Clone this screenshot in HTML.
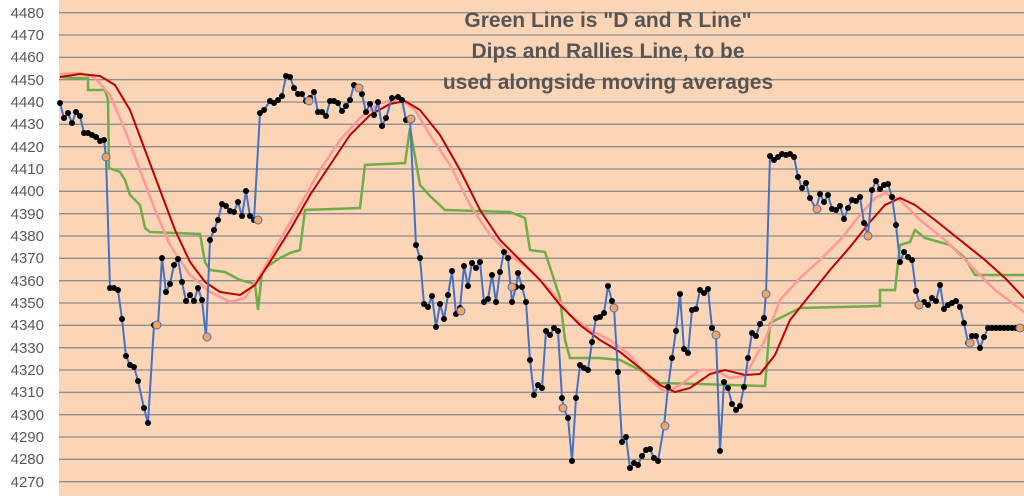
<!DOCTYPE html>
<html><head><meta charset="utf-8"><style>
html,body{margin:0;padding:0;background:#fff;}
svg{display:block;}
</style></head><body>
<svg width="1024" height="496" viewBox="0 0 1024 496" xmlns="http://www.w3.org/2000/svg">
<defs>
<marker id="dot" viewBox="0 0 10 10" refX="5" refY="5" markerWidth="6" markerHeight="6" markerUnits="userSpaceOnUse"><circle cx="5" cy="5" r="5" fill="#000"/></marker>
</defs>
<rect x="59" y="0" width="965" height="496" fill="#FBD5B6"/>
<g stroke="#8c8c8c" stroke-width="1.3">
<line x1="59" x2="1024" y1="12.7" y2="12.7"/><line x1="59" x2="1024" y1="35" y2="35"/><line x1="59" x2="1024" y1="57.4" y2="57.4"/><line x1="59" x2="1024" y1="79.7" y2="79.7"/><line x1="59" x2="1024" y1="102" y2="102"/><line x1="59" x2="1024" y1="124.3" y2="124.3"/><line x1="59" x2="1024" y1="146.7" y2="146.7"/><line x1="59" x2="1024" y1="169" y2="169"/><line x1="59" x2="1024" y1="191.3" y2="191.3"/><line x1="59" x2="1024" y1="213.7" y2="213.7"/><line x1="59" x2="1024" y1="236" y2="236"/><line x1="59" x2="1024" y1="258.3" y2="258.3"/><line x1="59" x2="1024" y1="280.7" y2="280.7"/><line x1="59" x2="1024" y1="303" y2="303"/><line x1="59" x2="1024" y1="325.3" y2="325.3"/><line x1="59" x2="1024" y1="347.7" y2="347.7"/><line x1="59" x2="1024" y1="370" y2="370"/><line x1="59" x2="1024" y1="392.3" y2="392.3"/><line x1="59" x2="1024" y1="414.7" y2="414.7"/><line x1="59" x2="1024" y1="437" y2="437"/><line x1="59" x2="1024" y1="459.3" y2="459.3"/><line x1="59" x2="1024" y1="481.7" y2="481.7"/>
</g>
<g font-family="Liberation Sans, sans-serif" font-size="15" fill="#595959" text-anchor="end">
<text x="44" y="18">4480</text><text x="44" y="40">4470</text><text x="44" y="62">4460</text><text x="44" y="85">4450</text><text x="44" y="107">4440</text><text x="44" y="129">4430</text><text x="44" y="152">4420</text><text x="44" y="174">4410</text><text x="44" y="196">4400</text><text x="44" y="219">4390</text><text x="44" y="241">4380</text><text x="44" y="263">4370</text><text x="44" y="286">4360</text><text x="44" y="308">4350</text><text x="44" y="330">4340</text><text x="44" y="353">4330</text><text x="44" y="375">4320</text><text x="44" y="397">4310</text><text x="44" y="420">4300</text><text x="44" y="442">4290</text><text x="44" y="464">4280</text><text x="44" y="487">4270</text>
</g>
<g font-family="Liberation Sans, sans-serif" font-size="21" font-weight="bold" fill="#555555" text-anchor="middle">
<text x="608" y="27">Green Line is "D and R Line"</text>
<text x="608" y="58">Dips and Rallies Line, to be</text>
<text x="608" y="89">used alongside moving averages</text>
</g>
<polyline fill="none" stroke="#70AD47" stroke-width="2.5" points="60,77 75,78 88,78 88,90 105,90 108,100 109,168 120,172 125,180 130,195 140,205 145,228 150,232 200,234 205,262 210,270 225,272 240,280 255,284 258,310 262,272 265,268 280,258 290,253 300,250 305,210 360,208 365,165 405,163 410,128 420,185 430,196 445,210 510,212 525,218 530,250 545,252 560,298 565,340 570,358 600,358 620,360 640,370 660,383 700,384 765,386 770,323 780,318 800,308 880,306 880,290 895,290 900,245 910,242 915,230 925,238 950,245 965,258 975,275 1024,275"/>
<polyline fill="none" stroke="#FF9999" stroke-width="2.5" points="60,74 80,73 95,78 110,95 125,130 140,170 155,210 170,245 190,275 210,292 230,302 245,298 260,275 280,240 300,205 320,170 340,140 360,118 380,103 400,99 415,110 430,135 450,165 470,205 490,235 510,255 530,270 550,290 570,315 590,330 610,340 630,355 650,380 665,392 680,385 700,370 715,370 730,378 745,376 765,340 780,300 800,278 820,260 840,240 860,215 875,198 885,193 900,200 920,220 945,240 970,265 995,290 1024,312"/>
<polyline fill="none" stroke="#C00000" stroke-width="2" points="60,77 80,74 100,76 115,85 130,110 145,150 160,190 175,230 190,262 205,282 220,292 240,295 255,285 270,262 290,230 310,195 330,165 350,135 370,115 390,104 405,101 420,110 440,135 460,170 480,210 500,240 520,260 540,280 560,305 580,325 600,340 620,352 640,368 660,385 675,392 690,388 710,374 725,370 745,375 760,374 775,355 790,320 810,295 830,270 850,247 870,222 885,205 900,198 915,205 935,220 960,240 985,260 1005,278 1024,298"/>
<polyline fill="none" stroke="#4472C4" stroke-width="2" marker-start="url(#dot)" marker-mid="url(#dot)" marker-end="url(#dot)" points="60,103 64,118 68,113 72,123 76,112 80,116 84,133 88,133 92,135 96,137 100,141 104,140 106,157 110,288 114,288 118,290 122,319 126,356 130,365 134,367 138,381 144,408 148,423 154,325 158,325 162,258 166,292 170,284 174,265 178,259 182,282 186,301 190,295 194,301 198,288 202,300 206,337 210,240 214,230 218,220 222,204 226,206 230,211 234,212 238,202 242,216 246,191 250,216 254,220 260,113 264,110 270,101 274,103 278,100 282,96 286,76 290,77 294,88 298,94 302,94 306,101 310,98 314,92 318,112 322,112 326,116 330,101 334,101 338,103 342,111 346,106 350,100 354,85 358,88 362,94 366,112 370,104 374,115 378,102 382,126 386,118 392,98 398,97 402,100 406,120 410,118 416,245 420,258 424,304 428,307 432,296 436,327 440,304 444,319 448,295 452,271 456,314 460,308 464,266 468,286 472,263 476,268 480,262 484,302 488,299 492,275 496,302 500,272 504,252 508,258 512,302 516,287 518,273 522,287 526,302 530,360 534,395 538,385 542,388 546,331 550,335 554,328 558,331 562,398 564,409 568,418 572,461 576,398 580,365 584,368 588,370 592,342 596,318 600,317 604,313 608,286 612,301 614,308 618,372 622,442 626,437 630,468 634,463 638,465 642,456 646,450 650,449 654,458 658,461 664,426 668,387 672,358 676,331 680,294 684,349 688,353 692,310 696,309 700,290 704,293 708,289 712,328 716,335 720,451 724,382 728,388 732,404 736,410 740,406 744,387 748,358 752,333 756,336 760,324 764,318 766,294 770,156 774,160 778,157 782,154 786,155 790,154 794,157 798,177 802,188 806,183 810,198 816,209 820,194 824,202 828,195 832,209 836,210 840,206 844,219 848,208 852,200 856,201 860,197 864,223 868,236 872,190 876,181 880,189 884,185 888,184 892,197 896,225 900,262 904,252 908,257 912,260 916,291 920,305 924,302 928,305 932,298 936,301 940,285 944,309 948,305 952,303 956,301 960,307 964,323 968,343 972,336 976,336 980,348 984,337 988,328 992,328 996,328 1000,328 1004,328 1008,328 1012,328 1016,328 1020,328"/>
<g fill="#F4A460" stroke="#4472C4" stroke-width="1">
<circle cx="106" cy="157" r="4"/><circle cx="157" cy="325" r="4"/><circle cx="207" cy="337" r="4"/><circle cx="258" cy="220" r="4"/><circle cx="309" cy="101" r="4"/><circle cx="359" cy="88" r="4"/><circle cx="411" cy="119" r="4"/><circle cx="461" cy="311" r="4"/><circle cx="512" cy="287" r="4"/><circle cx="563" cy="408" r="4"/><circle cx="614" cy="308" r="4"/><circle cx="665" cy="426" r="4"/><circle cx="716" cy="335" r="4"/><circle cx="766" cy="294" r="4"/><circle cx="817" cy="209" r="4"/><circle cx="868" cy="236" r="4"/><circle cx="919" cy="305" r="4"/><circle cx="970" cy="343" r="4"/><circle cx="1020" cy="328" r="4"/>
</g>
</svg>
</body></html>
